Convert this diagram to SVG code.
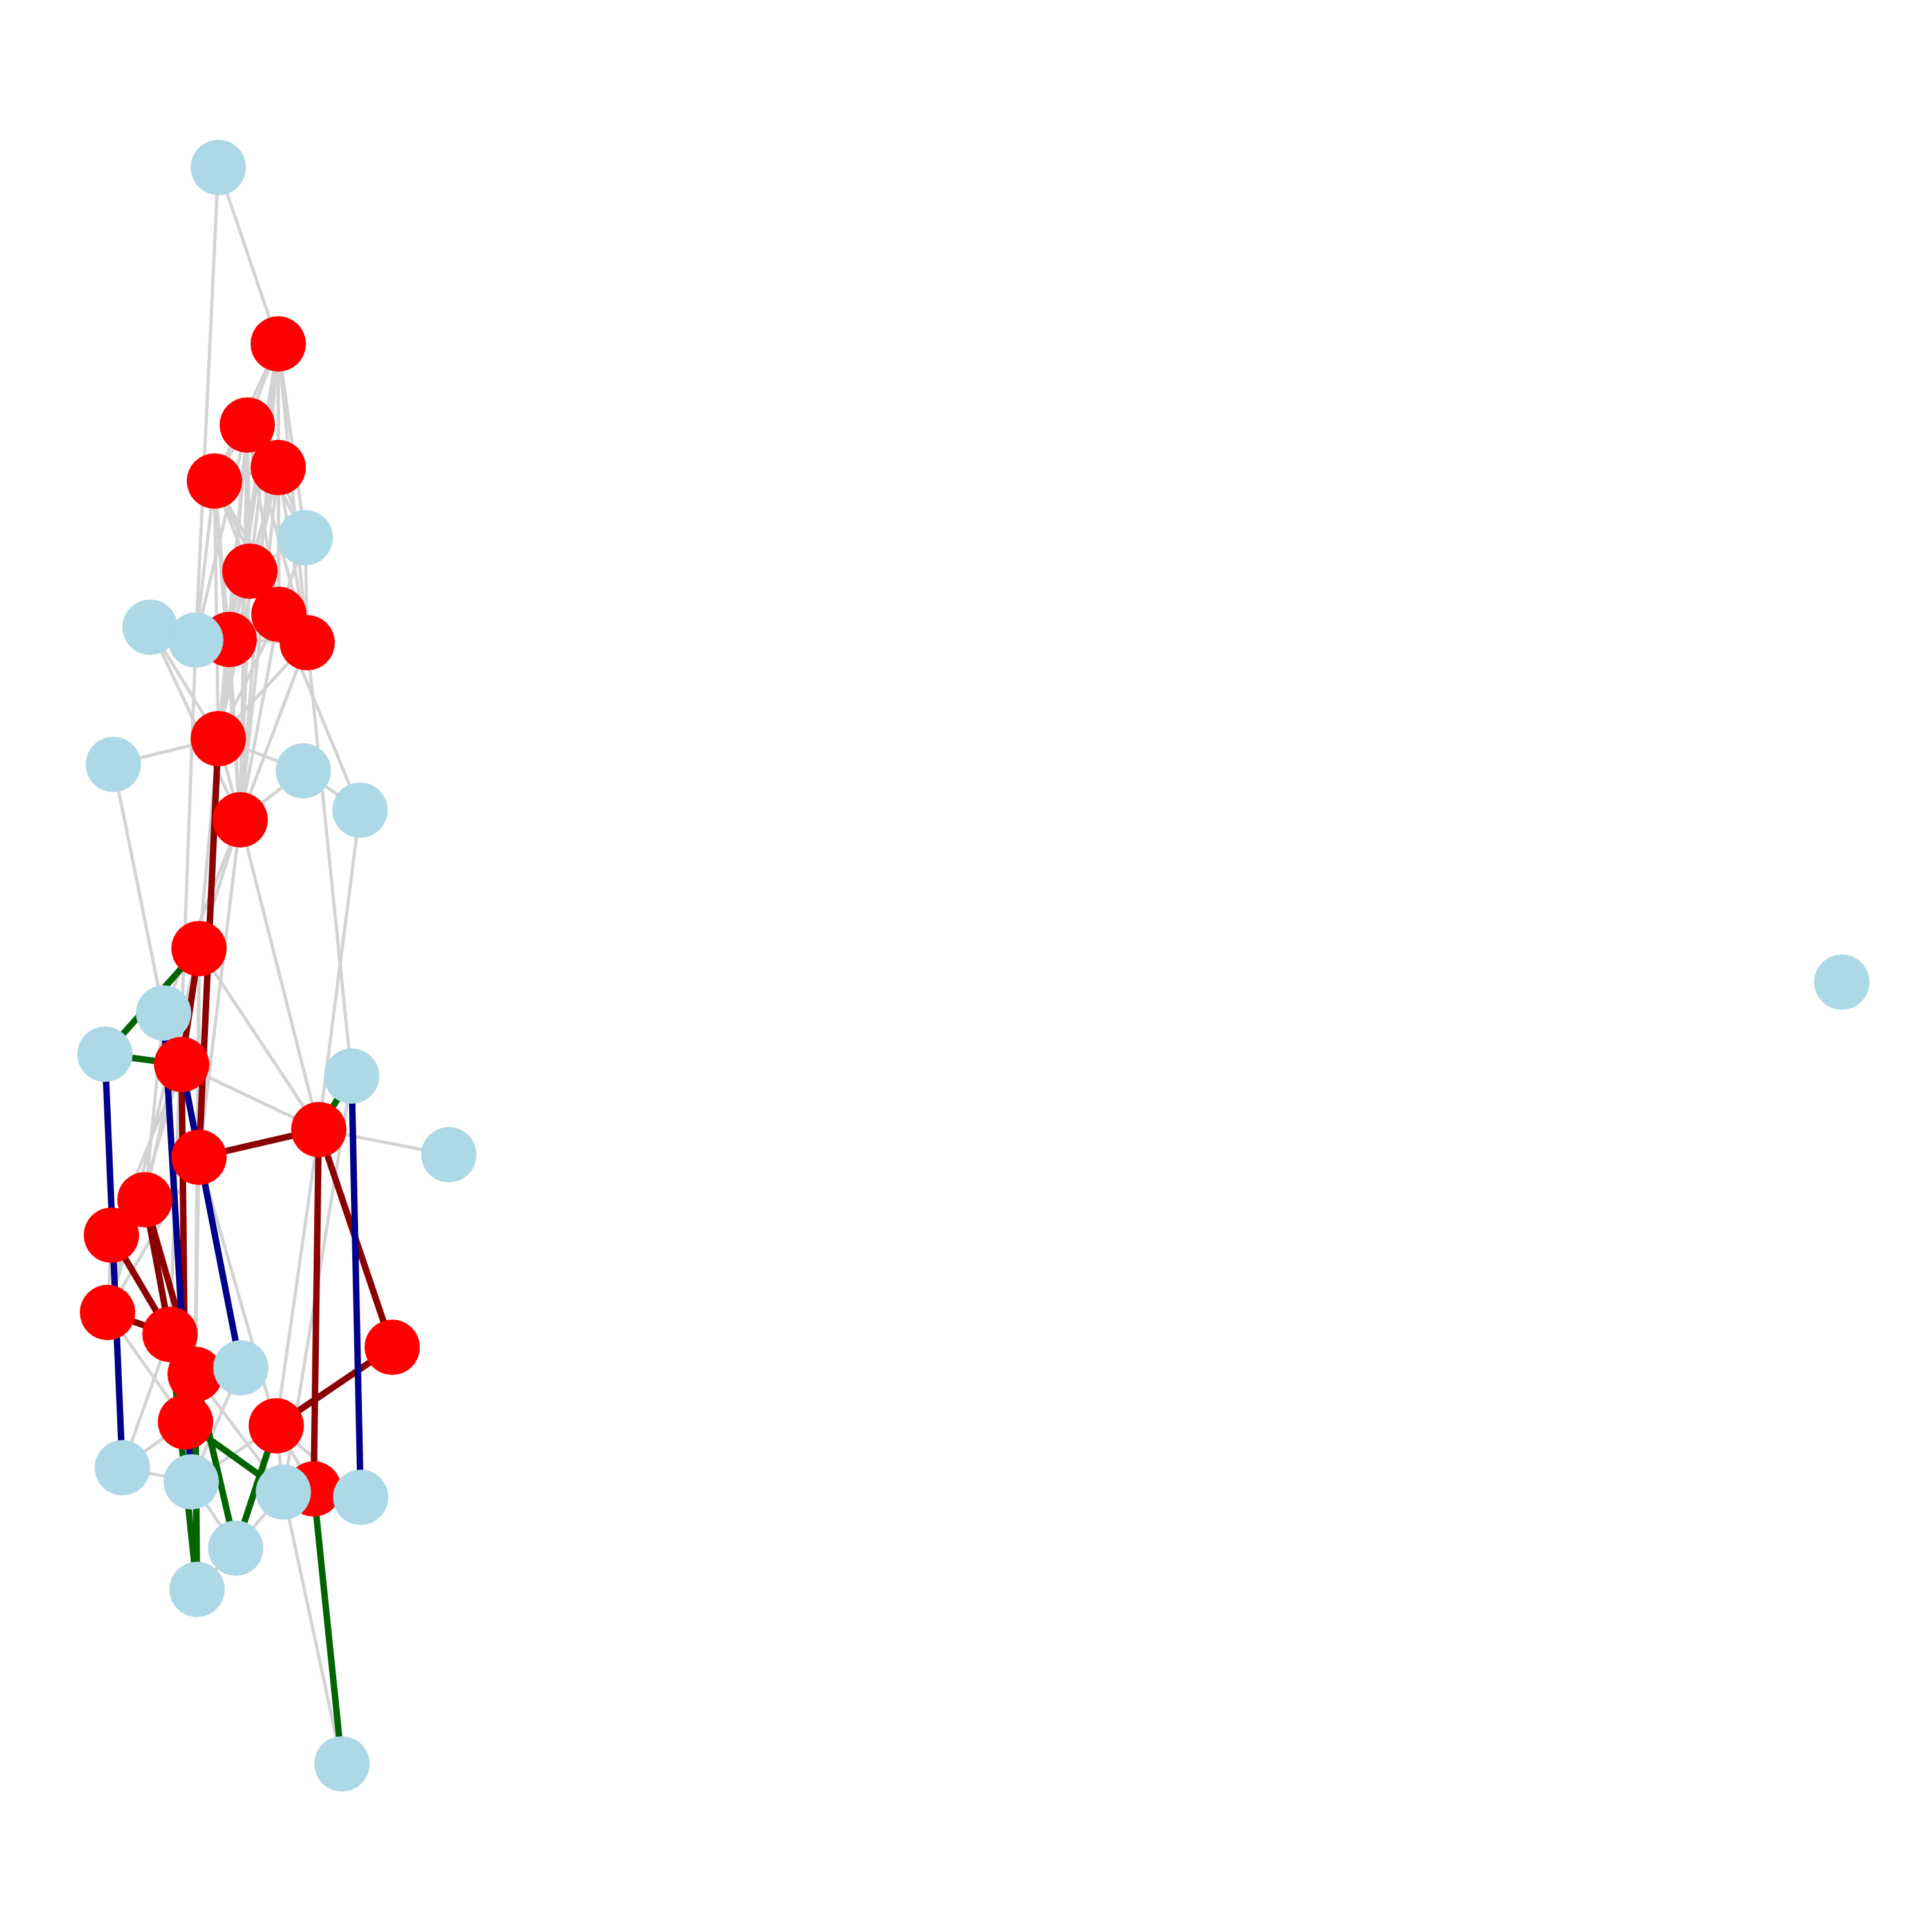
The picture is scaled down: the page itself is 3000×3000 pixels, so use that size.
<svg xmlns="http://www.w3.org/2000/svg" width="3000" height="3000" viewBox="0 0 3000 3000">
<style>
.g{stroke:#d3d3d3;stroke-width:5;fill:none}
.dr{stroke:#8b0000;stroke-width:10;fill:none}
.nv{stroke:#00008b;stroke-width:10;fill:none}
.gr{stroke:#006400;stroke-width:10;fill:none}
.red{fill:#ff0000}
.lb{fill:#add8e6}
</style>
<rect width="3000" height="3000" fill="#ffffff"/>
<g id="edges">
<g id="edges-gray">
<line class="g" x1="339" y1="260" x2="432" y2="534"/>
<line class="g" x1="339" y1="260" x2="304" y2="994"/>
<line class="g" x1="432" y1="534" x2="384" y2="660"/>
<line class="g" x1="432" y1="534" x2="432" y2="726"/>
<line class="g" x1="432" y1="534" x2="333" y2="747"/>
<line class="g" x1="432" y1="534" x2="388" y2="887"/>
<line class="g" x1="432" y1="534" x2="433" y2="954"/>
<line class="g" x1="432" y1="534" x2="356" y2="993"/>
<line class="g" x1="432" y1="534" x2="477" y2="998"/>
<line class="g" x1="432" y1="534" x2="339" y2="1147"/>
<line class="g" x1="432" y1="534" x2="373" y2="1273"/>
<line class="g" x1="384" y1="660" x2="432" y2="726"/>
<line class="g" x1="384" y1="660" x2="333" y2="747"/>
<line class="g" x1="384" y1="660" x2="388" y2="887"/>
<line class="g" x1="384" y1="660" x2="433" y2="954"/>
<line class="g" x1="384" y1="660" x2="356" y2="993"/>
<line class="g" x1="384" y1="660" x2="477" y2="998"/>
<line class="g" x1="384" y1="660" x2="339" y2="1147"/>
<line class="g" x1="384" y1="660" x2="373" y2="1273"/>
<line class="g" x1="432" y1="726" x2="333" y2="747"/>
<line class="g" x1="432" y1="726" x2="388" y2="887"/>
<line class="g" x1="432" y1="726" x2="433" y2="954"/>
<line class="g" x1="432" y1="726" x2="356" y2="993"/>
<line class="g" x1="432" y1="726" x2="477" y2="998"/>
<line class="g" x1="432" y1="726" x2="339" y2="1147"/>
<line class="g" x1="432" y1="726" x2="373" y2="1273"/>
<line class="g" x1="333" y1="747" x2="388" y2="887"/>
<line class="g" x1="333" y1="747" x2="433" y2="954"/>
<line class="g" x1="333" y1="747" x2="356" y2="993"/>
<line class="g" x1="333" y1="747" x2="477" y2="998"/>
<line class="g" x1="333" y1="747" x2="339" y2="1147"/>
<line class="g" x1="333" y1="747" x2="373" y2="1273"/>
<line class="g" x1="388" y1="887" x2="433" y2="954"/>
<line class="g" x1="388" y1="887" x2="356" y2="993"/>
<line class="g" x1="388" y1="887" x2="477" y2="998"/>
<line class="g" x1="388" y1="887" x2="339" y2="1147"/>
<line class="g" x1="388" y1="887" x2="373" y2="1273"/>
<line class="g" x1="433" y1="954" x2="356" y2="993"/>
<line class="g" x1="433" y1="954" x2="477" y2="998"/>
<line class="g" x1="433" y1="954" x2="339" y2="1147"/>
<line class="g" x1="433" y1="954" x2="373" y2="1273"/>
<line class="g" x1="356" y1="993" x2="477" y2="998"/>
<line class="g" x1="356" y1="993" x2="339" y2="1147"/>
<line class="g" x1="356" y1="993" x2="373" y2="1273"/>
<line class="g" x1="477" y1="998" x2="339" y2="1147"/>
<line class="g" x1="477" y1="998" x2="373" y2="1273"/>
<line class="g" x1="339" y1="1147" x2="373" y2="1273"/>
<line class="g" x1="474" y1="835" x2="432" y2="534"/>
<line class="g" x1="474" y1="835" x2="384" y2="660"/>
<line class="g" x1="474" y1="835" x2="432" y2="726"/>
<line class="g" x1="474" y1="835" x2="388" y2="887"/>
<line class="g" x1="474" y1="835" x2="433" y2="954"/>
<line class="g" x1="474" y1="835" x2="477" y2="998"/>
<line class="g" x1="233" y1="974" x2="339" y2="1147"/>
<line class="g" x1="233" y1="974" x2="373" y2="1273"/>
<line class="g" x1="304" y1="994" x2="384" y2="660"/>
<line class="g" x1="304" y1="994" x2="333" y2="747"/>
<line class="g" x1="304" y1="994" x2="264" y2="2072"/>
<line class="g" x1="176" y1="1187" x2="339" y2="1147"/>
<line class="g" x1="176" y1="1187" x2="254" y2="1573"/>
<line class="g" x1="471" y1="1197" x2="339" y2="1147"/>
<line class="g" x1="471" y1="1197" x2="373" y2="1273"/>
<line class="g" x1="471" y1="1197" x2="559" y2="1258"/>
<line class="g" x1="559" y1="1258" x2="433" y2="954"/>
<line class="g" x1="559" y1="1258" x2="495" y2="1754"/>
<line class="g" x1="477" y1="998" x2="546" y2="1671"/>
<line class="g" x1="373" y1="1273" x2="495" y2="1754"/>
<line class="g" x1="309" y1="1473" x2="495" y2="1754"/>
<line class="g" x1="282" y1="1653" x2="495" y2="1754"/>
<line class="g" x1="697" y1="1793" x2="495" y2="1754"/>
<line class="g" x1="373" y1="1273" x2="309" y2="1473"/>
<line class="g" x1="373" y1="1273" x2="309" y2="1797"/>
<line class="g" x1="373" y1="1273" x2="254" y2="1573"/>
<line class="g" x1="339" y1="1147" x2="309" y2="1473"/>
<line class="g" x1="309" y1="1473" x2="309" y2="1797"/>
<line class="g" x1="309" y1="1473" x2="225" y2="1863"/>
<line class="g" x1="309" y1="1473" x2="167" y2="2038"/>
<line class="g" x1="309" y1="1473" x2="303" y2="2134"/>
<line class="g" x1="282" y1="1653" x2="173" y2="1918"/>
<line class="g" x1="282" y1="1653" x2="167" y2="2038"/>
<line class="g" x1="254" y1="1573" x2="225" y2="1863"/>
<line class="g" x1="309" y1="1797" x2="167" y2="2038"/>
<line class="g" x1="309" y1="1797" x2="303" y2="2134"/>
<line class="g" x1="309" y1="1797" x2="429" y2="2214"/>
<line class="g" x1="173" y1="1918" x2="167" y2="2038"/>
<line class="g" x1="167" y1="2038" x2="288" y2="2208"/>
<line class="g" x1="495" y1="1754" x2="429" y2="2214"/>
<line class="g" x1="546" y1="1671" x2="440" y2="2317"/>
<line class="g" x1="190" y1="2279" x2="264" y2="2072"/>
<line class="g" x1="190" y1="2279" x2="288" y2="2208"/>
<line class="g" x1="190" y1="2279" x2="297" y2="2301"/>
<line class="g" x1="303" y1="2134" x2="440" y2="2317"/>
<line class="g" x1="297" y1="2301" x2="429" y2="2214"/>
<line class="g" x1="297" y1="2301" x2="374" y2="2124"/>
<line class="g" x1="297" y1="2301" x2="366" y2="2404"/>
<line class="g" x1="297" y1="2301" x2="306" y2="2468"/>
<line class="g" x1="366" y1="2404" x2="306" y2="2468"/>
<line class="g" x1="366" y1="2404" x2="440" y2="2317"/>
<line class="g" x1="429" y1="2214" x2="440" y2="2317"/>
<line class="g" x1="429" y1="2214" x2="560" y2="2325"/>
<line class="g" x1="429" y1="2214" x2="487" y2="2312"/>
<line class="g" x1="440" y1="2317" x2="531" y2="2739"/>
</g>
<g id="edges-color">
<line class="dr" x1="339" y1="1147" x2="309" y2="1797"/>
<line class="dr" x1="309" y1="1473" x2="282" y2="1653"/>
<line class="dr" x1="282" y1="1653" x2="288" y2="2208"/>
<line class="dr" x1="309" y1="1797" x2="495" y2="1754"/>
<line class="dr" x1="495" y1="1754" x2="609" y2="2092"/>
<line class="dr" x1="495" y1="1754" x2="487" y2="2312"/>
<line class="dr" x1="609" y1="2092" x2="429" y2="2214"/>
<line class="dr" x1="225" y1="1863" x2="264" y2="2072"/>
<line class="dr" x1="225" y1="1863" x2="303" y2="2134"/>
<line class="dr" x1="173" y1="1918" x2="264" y2="2072"/>
<line class="dr" x1="167" y1="2038" x2="264" y2="2072"/>
<line class="nv" x1="163" y1="1637" x2="190" y2="2279"/>
<line class="nv" x1="546" y1="1671" x2="560" y2="2325"/>
<line class="nv" x1="254" y1="1573" x2="297" y2="2301"/>
<line class="nv" x1="282" y1="1653" x2="374" y2="2124"/>
<line class="gr" x1="163" y1="1637" x2="309" y2="1473"/>
<line class="gr" x1="163" y1="1637" x2="282" y2="1653"/>
<line class="gr" x1="495" y1="1754" x2="546" y2="1671"/>
<line class="gr" x1="487" y1="2312" x2="531" y2="2739"/>
<line class="gr" x1="429" y1="2214" x2="366" y2="2404"/>
<line class="gr" x1="288" y1="2208" x2="440" y2="2317"/>
<line class="gr" x1="264" y1="2072" x2="306" y2="2468"/>
<line class="gr" x1="303" y1="2134" x2="306" y2="2468"/>
<line class="gr" x1="303" y1="2134" x2="366" y2="2404"/>
</g>
</g>
<g id="nodes">
<g id="b8"><circle class="lb" cx="254" cy="1573" r="43"/></g>
<g id="r1"><circle class="red" cx="432" cy="534" r="43"/></g>
<g id="r2"><circle class="red" cx="384" cy="660" r="43"/></g>
<g id="r3"><circle class="red" cx="432" cy="726" r="43"/></g>
<g id="r4"><circle class="red" cx="333" cy="747" r="43"/></g>
<g id="r5"><circle class="red" cx="388" cy="887" r="43"/></g>
<g id="r6"><circle class="red" cx="433" cy="954" r="43"/></g>
<g id="r7"><circle class="red" cx="356" cy="993" r="43"/></g>
<g id="r8"><circle class="red" cx="477" cy="998" r="43"/></g>
<g id="r9"><circle class="red" cx="339" cy="1147" r="43"/></g>
<g id="r10"><circle class="red" cx="373" cy="1273" r="43"/></g>
<g id="r11"><circle class="red" cx="309" cy="1473" r="43"/></g>
<g id="r12"><circle class="red" cx="282" cy="1653" r="43"/></g>
<g id="r13"><circle class="red" cx="309" cy="1797" r="43"/></g>
<g id="r14"><circle class="red" cx="495" cy="1754" r="43"/></g>
<g id="r15"><circle class="red" cx="225" cy="1863" r="43"/></g>
<g id="r16"><circle class="red" cx="173" cy="1918" r="43"/></g>
<g id="r17"><circle class="red" cx="167" cy="2038" r="43"/></g>
<g id="r18"><circle class="red" cx="264" cy="2072" r="43"/></g>
<g id="r19"><circle class="red" cx="303" cy="2134" r="43"/></g>
<g id="r20"><circle class="red" cx="288" cy="2208" r="43"/></g>
<g id="r21"><circle class="red" cx="429" cy="2214" r="43"/></g>
<g id="r22"><circle class="red" cx="609" cy="2092" r="43"/></g>
<g id="r23"><circle class="red" cx="487" cy="2312" r="43"/></g>
<g id="b1"><circle class="lb" cx="339" cy="260" r="43"/></g>
<g id="b2"><circle class="lb" cx="474" cy="835" r="43"/></g>
<g id="b3"><circle class="lb" cx="233" cy="974" r="43"/></g>
<g id="b4"><circle class="lb" cx="304" cy="994" r="43"/></g>
<g id="b5"><circle class="lb" cx="176" cy="1187" r="43"/></g>
<g id="b6"><circle class="lb" cx="471" cy="1197" r="43"/></g>
<g id="b7"><circle class="lb" cx="559" cy="1258" r="43"/></g>
<g id="b9"><circle class="lb" cx="163" cy="1637" r="43"/></g>
<g id="b10"><circle class="lb" cx="546" cy="1671" r="43"/></g>
<g id="b11"><circle class="lb" cx="697" cy="1793" r="43"/></g>
<g id="b12"><circle class="lb" cx="374" cy="2124" r="43"/></g>
<g id="b13"><circle class="lb" cx="190" cy="2279" r="43"/></g>
<g id="b14"><circle class="lb" cx="297" cy="2301" r="43"/></g>
<g id="b15"><circle class="lb" cx="440" cy="2317" r="43"/></g>
<g id="b16"><circle class="lb" cx="560" cy="2325" r="43"/></g>
<g id="b17"><circle class="lb" cx="366" cy="2404" r="43"/></g>
<g id="b18"><circle class="lb" cx="306" cy="2468" r="43"/></g>
<g id="b19"><circle class="lb" cx="531" cy="2739" r="43"/></g>
<g id="b20"><circle class="lb" cx="2860" cy="1525" r="43"/></g>
</g>
</svg>
